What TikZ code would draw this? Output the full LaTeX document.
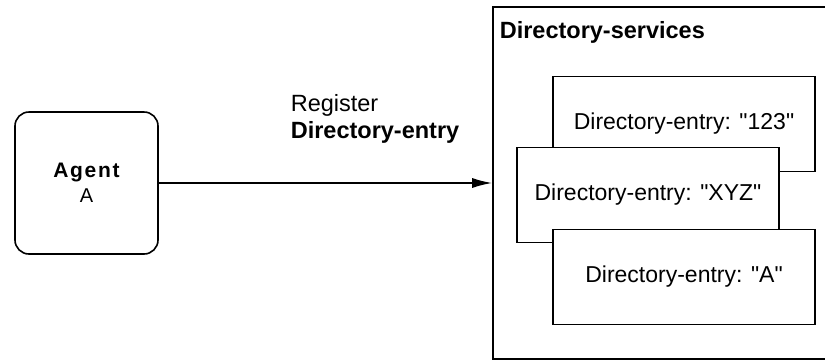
\documentclass[tikz,border=0pt]{standalone}
\usepackage{fontspec}
\setmainfont{Liberation Sans}
\usetikzlibrary{positioning}
\usetikzlibrary{arrows.meta}
\tikzset{
  entrybox/.style={draw, fill=white, minimum width=262pt, minimum height=95pt,
    inner sep=0pt, font=\fontsize{23}{27}\selectfont},
}

\begin{document}
\begin{tikzpicture}[x=1pt,y=-1pt,line width=1.6pt]
	%% canvas, same size as the screenshot
	\useasboundingbox (0,0) rectangle (825,360);
	\clip (0,0) rectangle (825,360);

	\def\midY{183} % height of the arrow
	\def\q{\textquotedbl} % straight quote

	% the agent
	\node[draw, rounded corners=14pt, minimum width=143pt, minimum height=142pt,
	      align=center, font=\fontsize{20}{25}\selectfont] (agent) at (86.5,\midY)
	      {{\fontsize{21}{25}\selectfont\bfseries\addfontfeature{LetterSpace=8}Agent}\\A};

	% directory services, runs past the right and bottom edge
	\node[draw, minimum width=345pt, minimum height=352pt] (dirsvc) at (665.5,\midY) {};
	\node[anchor=base west, inner sep=0pt, font=\fontsize{23.5}{26}\selectfont\bfseries]
	      (dirtitle) at (499,38) {Directory-services};

	% the three entries, back to front
	\node[entrybox] (e123) at (684,124) {Directory-entry: \q123\q};
	\node[entrybox] (exyz) at (648,195) {Directory-entry: \q XYZ\q};
	\node[entrybox] (ea) at (684,277) {Directory-entry: \q A\q};

	% register arrow
	\draw[-{Latex[length=20pt,width=10pt]}] (agent) -- (dirsvc);
	\node[anchor=base west, inner sep=0pt, align=left, font=\fontsize{23.5}{27}\selectfont]
	      (reglabel) at (290,138) {Register\\\textbf{Directory-entry}};
\end{tikzpicture}
\end{document}
